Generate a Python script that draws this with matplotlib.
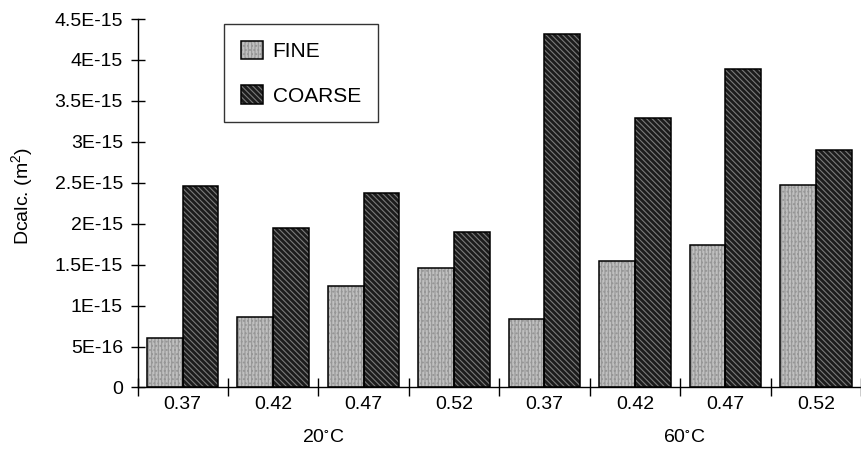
import matplotlib
matplotlib.use('Agg')
import matplotlib.pyplot as plt
import numpy as np
from matplotlib.legend_handler import HandlerTuple

plt.rcParams['font.family'] = ['Liberation Sans', 'DejaVu Sans']
plt.rcParams['font.size'] = 14
plt.rcParams['mathtext.default'] = 'regular'
plt.rcParams['hatch.linewidth'] = 0.8

# --- data ---
ratios = ['0.37', '0.42', '0.47', '0.52', '0.37', '0.42', '0.47', '0.52']
temps = ['20$^{\\circ}$C', '60$^{\\circ}$C']
fine = [0.605e-15, 0.86e-15, 1.235e-15, 1.455e-15, 0.84e-15, 1.545e-15, 1.735e-15, 2.47e-15]
coarse = [2.455e-15, 1.95e-15, 2.375e-15, 1.90e-15, 4.32e-15, 3.29e-15, 3.895e-15, 2.90e-15]
ytick_vals = [0, 0.5e-15, 1e-15, 1.5e-15, 2e-15, 2.5e-15, 3e-15, 3.5e-15, 4e-15, 4.5e-15]
ytick_labels = ['0', '5E-16', '1E-15', '1.5E-15', '2E-15', '2.5E-15',
                '3E-15', '3.5E-15', '4E-15', '4.5E-15']

fig = plt.figure(figsize=(8.61, 4.53), dpi=100)
ax = fig.add_axes([0.1597, 0.1446, 1.0 - 0.1597, 0.958 - 0.1446])

x = np.arange(len(ratios))
w = 0.395

# hatched fill first (hatch colour = edgecolor), then a black outline on top
f_fill = ax.bar(x - w / 2, fine, w, color='#c0c0c0', edgecolor='#969696',
                linewidth=0, hatch='|||||....')
c_fill = ax.bar(x + w / 2, coarse, w, color='#1c1c1c', edgecolor='#7a7a7a',
                linewidth=0, hatch='\\\\\\\\\\\\')
f_line = ax.bar(x - w / 2, fine, w, fill=False, edgecolor='black', linewidth=1.1)
c_line = ax.bar(x + w / 2, coarse, w, fill=False, edgecolor='black', linewidth=1.1)

ax.set_xlim(-0.5, 7.36)
ax.set_ylim(0, 4.5e-15)

ax.spines['top'].set_visible(False)
ax.spines['right'].set_visible(False)
ax.spines['left'].set_linewidth(1.0)
ax.spines['bottom'].set_linewidth(1.0)

ax.set_yticks(ytick_vals)
ax.set_yticklabels(ytick_labels)
ax.tick_params(axis='y', direction='inout', length=10, width=1.0, pad=5.5)

ax.set_xticks(x)
ax.set_xticklabels(ratios)
ax.tick_params(axis='x', which='major', length=0, pad=6)
ax.set_xticks(np.arange(-0.5, 8.0, 1.0), minor=True)
ax.tick_params(axis='x', which='minor', direction='inout', length=13, width=1.0)

ax.set_ylabel('Dcalc. (m$^2$)')
ax.yaxis.set_label_coords(-0.1417, 0.52)

for i, t in enumerate(temps):
    ax.text(1.55 + 4 * i, -0.137, t, transform=ax.get_xaxis_transform(),
            ha='center', va='center')

leg = ax.legend([(f_fill[0], f_line[0]), (c_fill[0], c_line[0])], ['FINE', 'COARSE'],
                handler_map={tuple: HandlerTuple(ndivide=1, pad=0)},
                loc='upper left', bbox_to_anchor=(224 / 861, 1 - 24 / 453),
                bbox_transform=fig.transFigure, frameon=True, fancybox=False,
                fontsize=15, handlelength=1.06, handleheight=1.0, labelspacing=1.15,
                handletextpad=0.48, borderpad=0.8, borderaxespad=0)
leg.get_frame().set_edgecolor('black')
leg.get_frame().set_linewidth(1.0)

fig.savefig('out.png', dpi=100)
